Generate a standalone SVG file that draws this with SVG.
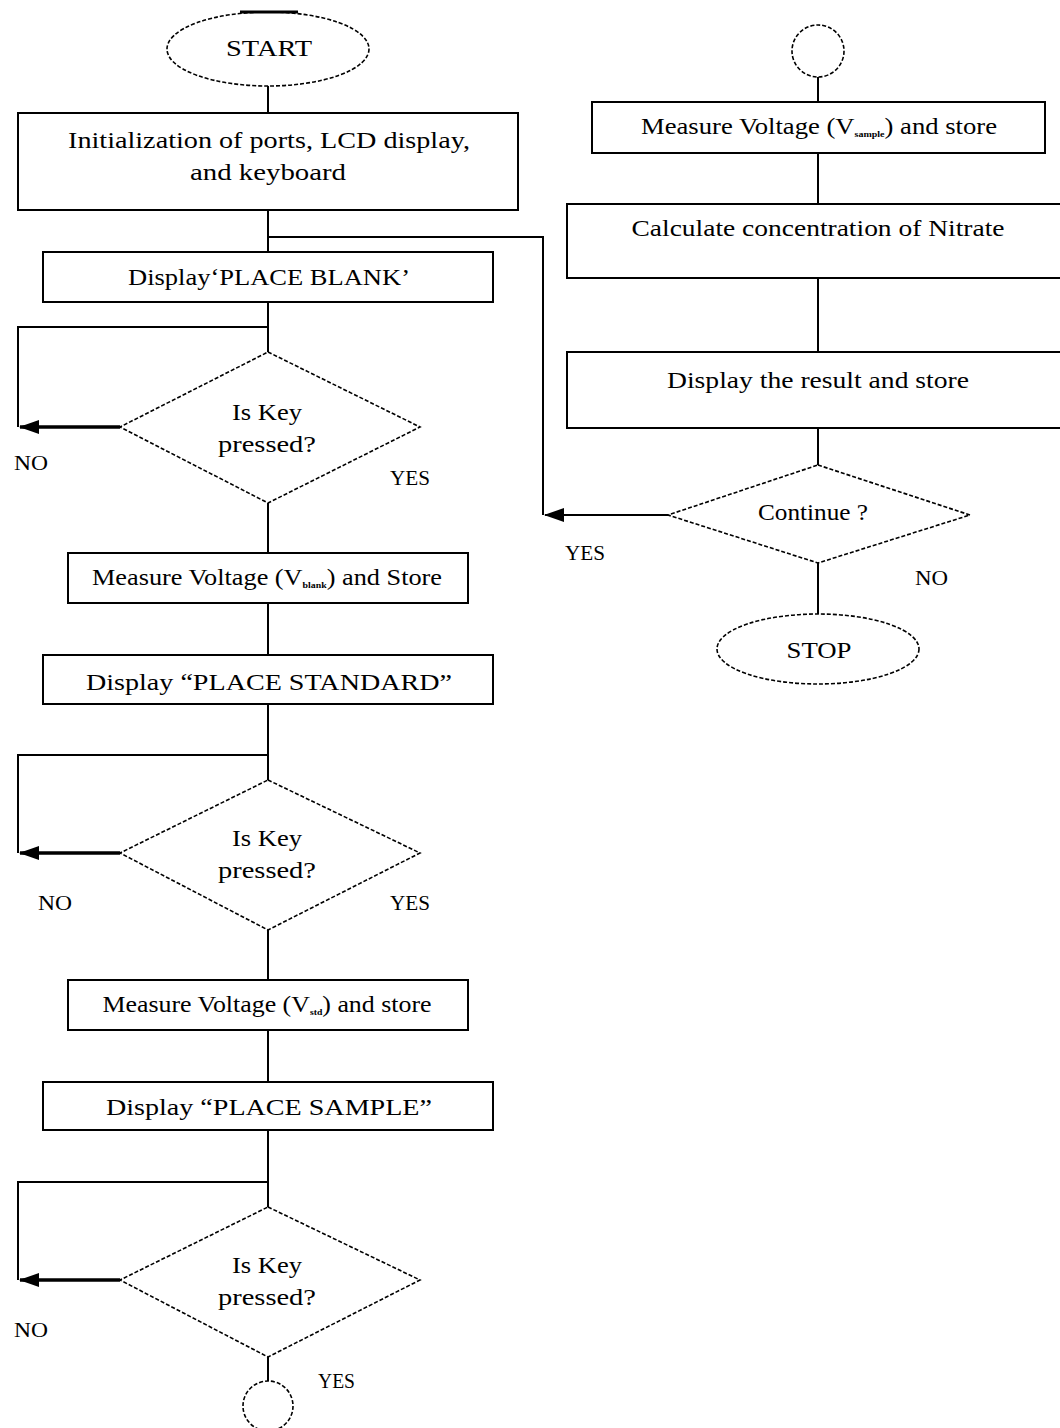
<svg xmlns="http://www.w3.org/2000/svg" width="1060" height="1428" viewBox="0 0 1060 1428">
<style>
.box{fill:#fff;stroke:#000;stroke-width:2}
.dash{fill:#fff;stroke:#000;stroke-width:1.6;stroke-dasharray:4 2}
.ln{fill:none;stroke:#000;stroke-width:2}
.thick{fill:none;stroke:#000;stroke-width:3.5}
.t{font-family:"Liberation Serif","Times New Roman",serif;font-size:24px;fill:#000;text-anchor:middle}
.s{font-family:"Liberation Serif","Times New Roman",serif;font-size:20px;fill:#000;text-anchor:start}
.sub{font-size:9px;font-weight:bold}
</style>
<defs>
<marker id="arr" markerUnits="userSpaceOnUse" markerWidth="20" markerHeight="14" refX="19" refY="7" orient="auto">
<path d="M0,0 L20,7 L0,14 z" fill="#000"/>
</marker>
</defs>
<rect width="1060" height="1428" fill="#fff"/>

<g id="connectors">
<line class="ln" x1="268" y1="86" x2="268" y2="113"/>
<line class="ln" x1="268" y1="210" x2="268" y2="252"/>
<path class="ln" d="M268,237 H543 V515"/>
<line class="ln" x1="268" y1="302" x2="268" y2="352"/>
<path class="ln" d="M268,327 H18 V427"/>
<line class="thick" x1="120" y1="427" x2="20" y2="427" marker-end="url(#arr)"/>
<line class="ln" x1="268" y1="503" x2="268" y2="553"/>
<line class="ln" x1="268" y1="603" x2="268" y2="655"/>
<line class="ln" x1="268" y1="704" x2="268" y2="780"/>
<path class="ln" d="M268,755 H18 V853"/>
<line class="thick" x1="120" y1="853" x2="20" y2="853" marker-end="url(#arr)"/>
<line class="ln" x1="268" y1="930" x2="268" y2="980"/>
<line class="ln" x1="268" y1="1030" x2="268" y2="1082"/>
<line class="ln" x1="268" y1="1130" x2="268" y2="1207"/>
<path class="ln" d="M268,1182 H18 V1280"/>
<line class="thick" x1="120" y1="1280" x2="20" y2="1280" marker-end="url(#arr)"/>
<line class="ln" x1="268" y1="1357" x2="268" y2="1381"/>
<line class="ln" x1="818" y1="77" x2="818" y2="102"/>
<line class="ln" x1="818" y1="153" x2="818" y2="204"/>
<line class="ln" x1="818" y1="278" x2="818" y2="352"/>
<line class="ln" x1="818" y1="428" x2="818" y2="465"/>
<line class="ln" x1="668" y1="515" x2="545" y2="515" marker-end="url(#arr)"/>
<line class="ln" x1="818" y1="563" x2="818" y2="615"/>
</g>

<g id="start">
<ellipse class="dash" cx="268" cy="49" rx="101" ry="37"/>
<line x1="240" y1="12" x2="298" y2="12" stroke="#000" stroke-width="3"/>
<text class="t" x="269" y="56" textLength="86" lengthAdjust="spacingAndGlyphs">START</text>
</g>

<g id="init">
<rect class="box" x="18" y="113" width="500" height="97"/>
<text class="t" x="269" y="148" textLength="402" lengthAdjust="spacingAndGlyphs">Initialization of ports, LCD display,</text>
<text class="t" x="268" y="180" textLength="156" lengthAdjust="spacingAndGlyphs">and keyboard</text>
</g>

<g id="place-blank">
<rect class="box" x="43" y="252" width="450" height="50"/>
<text class="t" x="269" y="285" textLength="282" lengthAdjust="spacingAndGlyphs">Display‘PLACE BLANK’</text>
</g>

<g id="key1">
<polygon class="dash" points="268,352 420,427 268,503 120,427"/>
<text class="t" x="267" y="420" textLength="70" lengthAdjust="spacingAndGlyphs">Is Key</text>
<text class="t" x="267" y="452" textLength="98" lengthAdjust="spacingAndGlyphs">pressed?</text>
<text class="s" x="14" y="470" textLength="34" lengthAdjust="spacingAndGlyphs">NO</text>
<text class="s" x="390" y="485" textLength="40" lengthAdjust="spacingAndGlyphs">YES</text>
</g>

<g id="measure-blank">
<rect class="box" x="68" y="553" width="400" height="50"/>
<text class="t" x="267" y="585" textLength="350" lengthAdjust="spacingAndGlyphs">Measure Voltage (V<tspan class="sub" dy="3">blank</tspan><tspan dy="-3">) and Store</tspan></text>
</g>

<g id="place-standard">
<rect class="box" x="43" y="655" width="450" height="49"/>
<text class="t" x="269" y="690" textLength="366" lengthAdjust="spacingAndGlyphs">Display “PLACE STANDARD”</text>
</g>

<g id="key2">
<polygon class="dash" points="268,780 420,853 268,930 120,853"/>
<text class="t" x="267" y="846" textLength="70" lengthAdjust="spacingAndGlyphs">Is Key</text>
<text class="t" x="267" y="878" textLength="98" lengthAdjust="spacingAndGlyphs">pressed?</text>
<text class="s" x="38" y="910" textLength="34" lengthAdjust="spacingAndGlyphs">NO</text>
<text class="s" x="390" y="910" textLength="40" lengthAdjust="spacingAndGlyphs">YES</text>
</g>

<g id="measure-std">
<rect class="box" x="68" y="980" width="400" height="50"/>
<text class="t" x="267" y="1012" textLength="329" lengthAdjust="spacingAndGlyphs">Measure Voltage (V<tspan class="sub" dy="3">std</tspan><tspan dy="-3">) and store</tspan></text>
</g>

<g id="place-sample">
<rect class="box" x="43" y="1082" width="450" height="48"/>
<text class="t" x="269" y="1115" textLength="326" lengthAdjust="spacingAndGlyphs">Display “PLACE SAMPLE”</text>
</g>

<g id="key3">
<polygon class="dash" points="268,1207 420,1280 268,1357 120,1280"/>
<text class="t" x="267" y="1273" textLength="70" lengthAdjust="spacingAndGlyphs">Is Key</text>
<text class="t" x="267" y="1305" textLength="98" lengthAdjust="spacingAndGlyphs">pressed?</text>
<text class="s" x="14" y="1337" textLength="34" lengthAdjust="spacingAndGlyphs">NO</text>
<text class="s" x="318" y="1388" textLength="37" lengthAdjust="spacingAndGlyphs">YES</text>
</g>

<g id="connector-out">
<circle class="dash" cx="268" cy="1406" r="25"/>
</g>

<g id="connector-in">
<circle class="dash" cx="818" cy="51" r="26"/>
</g>

<g id="measure-sample">
<rect class="box" x="592" y="102" width="453" height="51"/>
<text class="t" x="819" y="134" textLength="356" lengthAdjust="spacingAndGlyphs">Measure Voltage (V<tspan class="sub" dy="3">sample</tspan><tspan dy="-3">) and store</tspan></text>
</g>

<g id="calculate">
<rect class="box" x="567" y="204" width="500" height="74"/>
<text class="t" x="818" y="236" textLength="373" lengthAdjust="spacingAndGlyphs">Calculate concentration of Nitrate</text>
</g>

<g id="display-result">
<rect class="box" x="567" y="352" width="500" height="76"/>
<text class="t" x="818" y="388" textLength="302" lengthAdjust="spacingAndGlyphs">Display the result and store</text>
</g>

<g id="continue">
<polygon class="dash" points="818,465 970,515 818,563 668,515"/>
<text class="t" x="813" y="520" textLength="110" lengthAdjust="spacingAndGlyphs">Continue ?</text>
<text class="s" x="565" y="560" textLength="40" lengthAdjust="spacingAndGlyphs">YES</text>
<text class="s" x="915" y="585" textLength="33" lengthAdjust="spacingAndGlyphs">NO</text>
</g>

<g id="stop">
<ellipse class="dash" cx="818" cy="649" rx="101" ry="35"/>
<text class="t" x="819" y="658" textLength="65" lengthAdjust="spacingAndGlyphs">STOP</text>
</g>
</svg>
